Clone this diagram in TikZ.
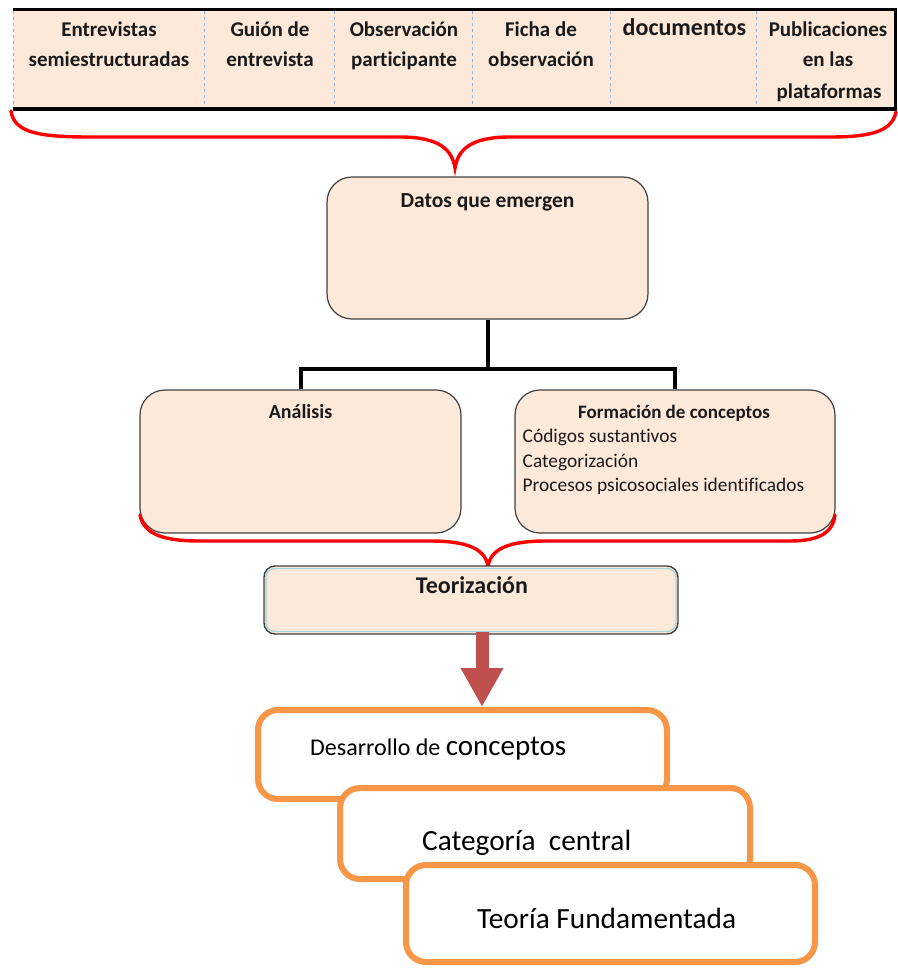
\documentclass[tikz,border=0pt]{standalone}
\usepackage{fontspec}
\setmainfont{Carlito}[Ligatures=NoCommon]
\usetikzlibrary{arrows.meta}
\definecolor{peach}{HTML}{FDE9D9}
\definecolor{sepblue}{HTML}{95B3D7}
\definecolor{bracered}{HTML}{FF0000}
\definecolor{orangeb}{HTML}{F79646}
\definecolor{arrowred}{HTML}{C0504D}
\definecolor{tealb}{HTML}{A5D5E2}
\definecolor{boxline}{HTML}{404040}
\definecolor{txt}{HTML}{1A1A1A}
\tikzset{
  celltext/.style={anchor=base, inner sep=0pt, text=txt, font=\fontsize{21}{24}\selectfont\bfseries},
  peachbox/.style={draw=boxline, line width=1.2pt, fill=peach, rounded corners=25pt, inner sep=0pt},
  boxtitle/.style={anchor=base, inner sep=0pt, text=txt, font=\fontsize{20}{24}\selectfont\bfseries},
  bodytext/.style={anchor=base west, inner sep=0pt, text=txt, font=\fontsize{19.4}{23}\selectfont},
  orangebox/.style={draw=orangeb, line width=6pt, fill=white, rounded corners=20pt, inner sep=0pt,
     minimum width=409pt},
  bigtext/.style={anchor=base west, inner sep=0pt, text=black, font=\fontsize{29.3}{32}\selectfont},
  bracepath/.style={draw=bracered, line width=3.4pt, line cap=round},
  treeline/.style={draw=black, line width=4pt}
}
\begin{document}
\begin{tikzpicture}[x=1pt,y=-1pt]
\useasboundingbox (0,0) rectangle (897,969);

% ---------- table ----------
\fill[peach] (13,11) rectangle (896,108);
\foreach \xx in {13,204,334,472,610,756}
  \draw[sepblue, line width=0.8pt, dashed] (\xx,11) -- (\xx,108);
\draw[black, line width=3.5pt] (13,9.5) -- (897,9.5);
\draw[black, line width=3.5pt] (13,109) -- (897,109);
\draw[black, line width=2.5pt] (895.5,9.5) -- (895.5,109);

\node[celltext] (c1a) at (109,36) {Entrevistas};
\node[celltext] (c1b) at (109,66) {semiestructuradas};
\node[celltext] (c2a) at (270,36) {Guión de};
\node[celltext] (c2b) at (270,66) {entrevista};
\node[celltext] (c3a) at (404,36) {Observación};
\node[celltext] (c3b) at (404,66) {participante};
\node[celltext] (c4a) at (541,36) {Ficha de};
\node[celltext] (c4b) at (541,66) {observación};
\node[celltext, font=\fontsize{24}{28}\selectfont\bfseries] (c5a) at (684.5,35) {documentos};
\node[celltext] (c6a) at (828,36) {Publicaciones};
\node[celltext] (c6b) at (828,66) {en las};
\node[celltext] (c6c) at (829,98) {plataformas};

% ---------- brace 1 ----------
\draw[bracepath] (11,111) .. controls (14,133) and (40,137) .. (90,137)
  -- (400,137) .. controls (440,137) and (452,150) .. (455,168)
  .. controls (458,150) and (470,137) .. (510,137)
  -- (830,137) .. controls (872,137) and (892,131) .. (896,112);

% ---------- boxes ----------
\node[peachbox, minimum width=321pt, minimum height=142pt] (datos) at (487.5,248) {};
\node[boxtitle, font=\fontsize{21.5}{24}\selectfont\bfseries] (datost) at (487.5,207) {Datos que emergen};

\node[peachbox, minimum width=321pt, minimum height=143pt] (anal) at (300.5,461.5) {};
\node[boxtitle] (analt) at (300.5,418) {Análisis};

\node[peachbox, minimum width=320pt, minimum height=143pt] (form) at (675,461.5) {};
\node[boxtitle, font=\fontsize{19}{23}\selectfont\bfseries] (formt) at (674,418) {Formación de conceptos};
\node[bodytext] (f1) at (522.5,442) {Códigos sustantivos};
\node[bodytext] (f2) at (522.5,467) {Categorización};
\node[bodytext] (f3) at (522.5,491) {Procesos psicosociales identificados};

% tree connector
\draw[treeline] (datos.south) -- ++(0,49) -| (anal.north);
\draw[treeline] (datos.south) -- ++(0,49) -| (form.north);

% ---------- brace 2 ----------
\draw[bracepath] (140,515) .. controls (144,535) and (165,541) .. (200,541)
  -- (430,541) .. controls (470,541) and (485,550) .. (488,566)
  .. controls (491,550) and (506,541) .. (546,541)
  -- (790,541) .. controls (820,541) and (833,532) .. (835,515);

% ---------- Teorizacion ----------
\node[draw=boxline, line width=1.4pt, fill=peach, rounded corners=11pt,
      minimum width=414pt, minimum height=68pt, inner sep=0pt] (teor) at (471,600) {};
\draw[tealb, line width=1.3pt, rounded corners=9pt] (266,568.5) rectangle (676,631.5);
\node[boxtitle, font=\fontsize{24}{28}\selectfont\bfseries] (teort) at (472,593) {Teorización};

% ---------- orange boxes ----------
\node[orangebox, minimum height=89pt] (o1) at (462.5,754.5) {};
\node[bigtext] (o1t) at (310,755) {\fontsize{24}{28}\selectfont Desarrollo de \fontsize{29}{32}\selectfont conceptos};
\node[orangebox, minimum width=410pt, minimum height=91pt] (o2) at (545,833.5) {};
\node[bigtext] (o2t) at (422,850) {Categoría\ \ central};
\node[orangebox, minimum height=97pt] (o3) at (610.5,913.5) {};
\node[bigtext] (o3t) at (477,928) {Teoría Fundamentada};

% ---------- red arrow ----------
\coordinate (arrs) at (482,632);
\draw[arrowred, line width=13pt, -{Triangle[width=40pt,length=39pt]}] (arrs) -- (arrs |- o1.north);

\end{tikzpicture}
\end{document}
